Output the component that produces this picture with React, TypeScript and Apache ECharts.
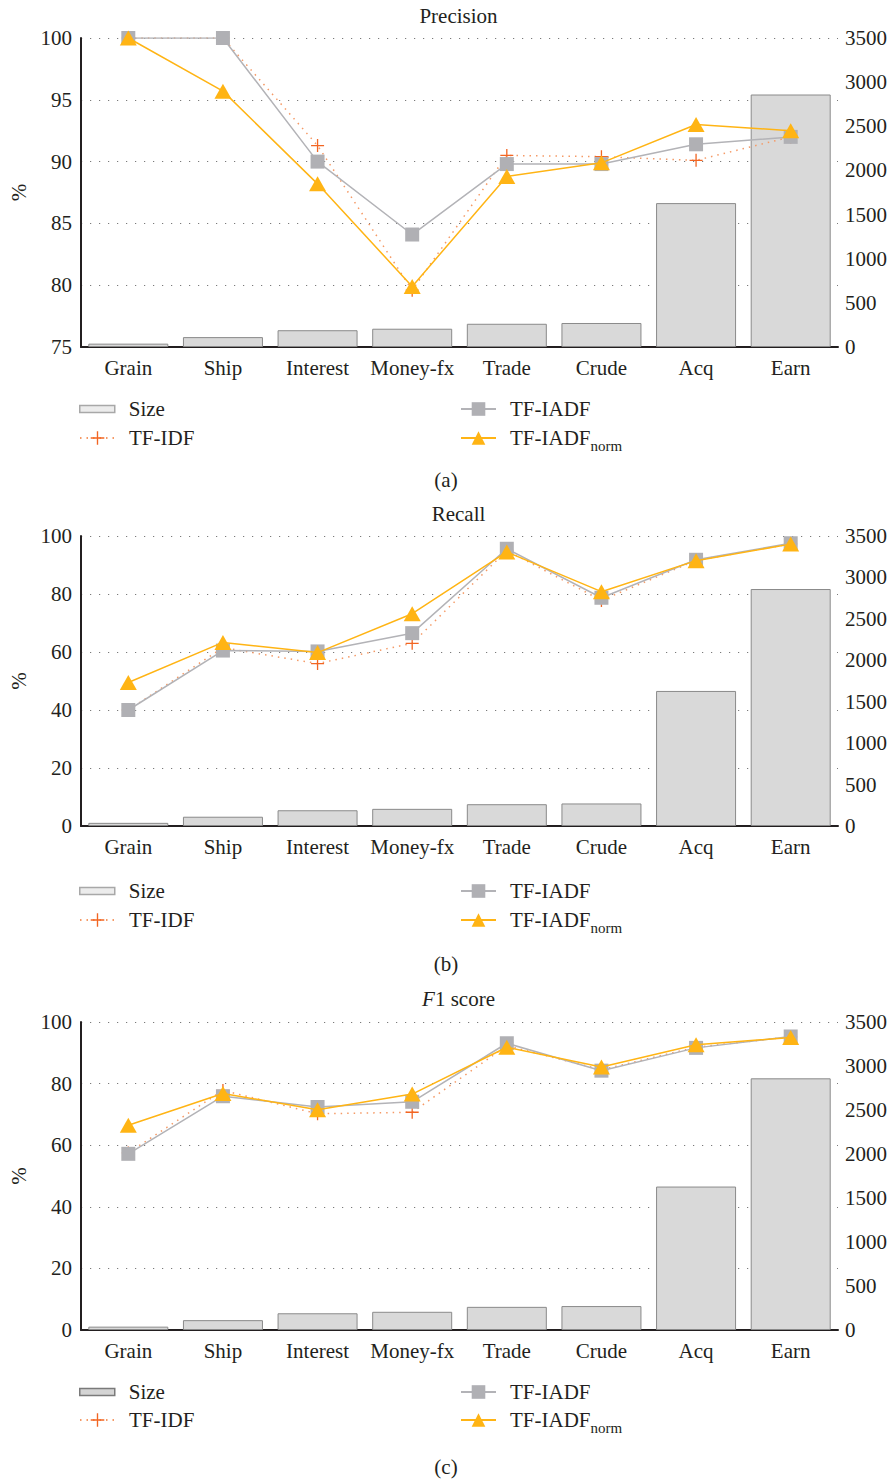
import React, { useEffect, useRef } from "react";
import * as echarts from "echarts";

// Categories and training-set sizes (documents per class)
const categories = ["Grain", "Ship", "Interest", "Money-fx", "Trade", "Crude", "Acq", "Earn"];
const sizeValues = [38, 112, 190, 207, 263, 272, 1630, 2860];

// Precision (%)
const precisionTfIdf = [100, 100, 91.3, 79.6, 90.5, 90.4, 90.1, 92.0];
const precisionTfIadf = [100, 100, 90.0, 84.1, 89.8, 89.8, 91.4, 92.0];
const precisionTfIadfNorm = [100, 95.7, 88.2, 79.9, 88.8, 89.9, 93.0, 92.5];

// Recall (%)
const recallTfIdf = [40, 61.5, 56, 63, 95, 77.8, 91.6, 97.3];
const recallTfIadf = [40, 60.5, 60.2, 66.5, 95.6, 78.7, 91.8, 97.5];
const recallTfIadfNorm = [49.5, 63.3, 59.8, 73.2, 94.5, 80.8, 91.5, 97.2];

// F1 score (%)
const f1TfIdf = [57.5, 77.8, 70.2, 70.7, 92.3, 84.5, 91.8, 95.2];
const f1TfIadf = [57.2, 75.9, 72.4, 74.1, 93.1, 84.2, 91.6, 95.3];
const f1TfIadfNorm = [66.5, 76.8, 71.5, 76.6, 91.8, 85.4, 92.6, 95.0];

// Axis ranges
const leftTicksA = { min: 75, max: 100, interval: 5 };
const leftTicksBC = { min: 0, max: 100, interval: 20 };
const rightTicks = { min: 0, max: 3500, interval: 500 };

const FONT = '"Liberation Serif", "Times New Roman", serif';
const FS = 21;
const INK = "#231f20";
const GRAY_LINE = "#b3b3b7";
const GRAY_MARK = "#b0b0b4";
const AMBER = "#ffb414";
const ORANGE = "#f26522";
const ORANGE_DOT = "#f59a66";
const PLUS = "path://M5.4,0H6.6V5.4H12V6.6H6.6V12H5.4V6.6H0V5.4H5.4Z";

type Panel = {
  title: string;
  caption: string;
  tfidf: number[];
  tfiadf: number[];
  norm: number[];
  ticks: { min: number; max: number; interval: number };
  gridTop: number;
  gridHeight: number;
  titleTop: number;
  rows: [number, number];
  captionTop: number;
  sizeSwatch: { color: string; borderColor: string };
};

const panels: Panel[] = [
  {
    title: "Precision",
    caption: "(a)",
    tfidf: precisionTfIdf,
    tfiadf: precisionTfIadf,
    norm: precisionTfIadfNorm,
    ticks: leftTicksA,
    gridTop: 38,
    gridHeight: 309,
    titleTop: 5,
    rows: [409, 438],
    captionTop: 469,
    sizeSwatch: { color: "#ececec", borderColor: "#a8a8a8" },
  },
  {
    title: "Recall",
    caption: "(b)",
    tfidf: recallTfIdf,
    tfiadf: recallTfIadf,
    norm: recallTfIadfNorm,
    ticks: leftTicksBC,
    gridTop: 536,
    gridHeight: 290,
    titleTop: 503,
    rows: [891, 920],
    captionTop: 953,
    sizeSwatch: { color: "#ececec", borderColor: "#a8a8a8" },
  },
  {
    title: "{i|F}1 score",
    caption: "(c)",
    tfidf: f1TfIdf,
    tfiadf: f1TfIadf,
    norm: f1TfIadfNorm,
    ticks: leftTicksBC,
    gridTop: 1022,
    gridHeight: 308,
    titleTop: 988,
    rows: [1392, 1420],
    captionTop: 1456,
    sizeSwatch: { color: "#d4d4d4", borderColor: "#7a7a7a" },
  },
];

const GRID_LEFT = 79;
const GRID_WIDTH = 759;

function buildOption() {
  const grid: any[] = [];
  const xAxis: any[] = [];
  const yAxis: any[] = [];
  const series: any[] = [];
  const title: any[] = [];
  const legend: any[] = [];

  const textBase = { fontFamily: FONT, fontSize: FS, color: INK };
  const legendText = { ...textBase, lineHeight: 21, padding: [0, 0, 0, 9] };

  panels.forEach((p, i) => {
    grid.push({ left: GRID_LEFT, top: p.gridTop, width: GRID_WIDTH, height: p.gridHeight });

    xAxis.push({
      type: "category",
      gridIndex: i,
      data: categories,
      axisLine: { show: true, lineStyle: { color: INK, width: 2 } },
      axisTick: { show: false },
      axisLabel: { ...textBase, margin: 10, interval: 0 },
      splitLine: { show: false },
    });

    yAxis.push({
      type: "value",
      gridIndex: i,
      position: "left",
      min: p.ticks.min,
      max: p.ticks.max,
      interval: p.ticks.interval,
      name: "%",
      nameLocation: "middle",
      nameGap: 52,
      nameRotate: 90,
      nameTextStyle: { ...textBase },
      axisLine: { show: true, lineStyle: { color: INK, width: 2 } },
      axisTick: { show: false },
      axisLabel: { ...textBase, margin: 9 },
      splitLine: { show: true, lineStyle: { color: "#7a7a7a", width: 1.2, type: [1.2, 7.8] } },
    });

    yAxis.push({
      type: "value",
      gridIndex: i,
      position: "right",
      min: rightTicks.min,
      max: rightTicks.max,
      interval: rightTicks.interval,
      axisLine: { show: false },
      axisTick: { show: false },
      axisLabel: { ...textBase, margin: 7, formatter: (v: number) => String(v) },
      splitLine: { show: false },
    });

    series.push({
      type: "bar",
      name: "Size",
      xAxisIndex: i,
      yAxisIndex: 2 * i + 1,
      data: sizeValues,
      barWidth: 80,
      itemStyle: { color: "#d9d9d9", borderColor: "#8a8a8a", borderWidth: 1 },
      z: 1,
    });
    series.push({
      type: "line",
      name: "TF-IDF",
      xAxisIndex: i,
      yAxisIndex: 2 * i,
      data: p.tfidf,
      symbol: PLUS,
      symbolSize: 13,
      itemStyle: { color: ORANGE },
      lineStyle: { color: ORANGE_DOT, width: 1.5, type: [1.5, 5] },
      z: 2,
    });
    series.push({
      type: "line",
      name: "TF-IADF",
      xAxisIndex: i,
      yAxisIndex: 2 * i,
      data: p.tfiadf,
      symbol: "rect",
      symbolSize: 14,
      itemStyle: { color: GRAY_MARK },
      lineStyle: { color: GRAY_LINE, width: 1.5 },
      z: 3,
    });
    series.push({
      type: "line",
      name: "TF-IADFnorm",
      xAxisIndex: i,
      yAxisIndex: 2 * i,
      data: p.norm,
      symbol: "triangle",
      symbolSize: [17, 15],
      itemStyle: { color: AMBER },
      lineStyle: { color: AMBER, width: 1.5 },
      z: 4,
    });

    title.push({
      text: p.title,
      left: GRID_LEFT + GRID_WIDTH / 2,
      textAlign: "center",
      top: p.titleTop,
      padding: 0,
      textStyle: {
        ...textBase,
        fontWeight: "normal",
        rich: { i: { ...textBase, fontStyle: "italic" } },
      },
    });
    title.push({
      text: p.caption,
      left: "center",
      top: p.captionTop,
      padding: 0,
      textStyle: { ...textBase, fontWeight: "normal" },
    });

    const [r1, r2] = p.rows;
    legend.push({
      data: [{ name: "Size", icon: "rect", itemStyle: { ...p.sizeSwatch, borderWidth: 1.5 } }],
      left: 79,
      top: r1 - 10.5,
      padding: 0,
      itemWidth: 35,
      itemHeight: 7,
      selectedMode: false,
      textStyle: legendText,
    });
    legend.push({
      data: ["TF-IDF"],
      left: 79,
      top: r2 - 10.5,
      padding: 0,
      itemWidth: 35,
      itemHeight: 17,
      selectedMode: false,
      textStyle: legendText,
    });
    legend.push({
      data: ["TF-IADF"],
      left: 460,
      top: r1 - 10.5,
      padding: 0,
      itemWidth: 35,
      itemHeight: 17,
      selectedMode: false,
      textStyle: legendText,
    });
    legend.push({
      data: ["TF-IADFnorm"],
      left: 460,
      top: r2 - 10.5,
      padding: 0,
      itemWidth: 35,
      itemHeight: 17,
      selectedMode: false,
      formatter: () => "{m|TF-IADF}{s|norm}",
      textStyle: {
        ...legendText,
        rich: {
          m: { ...textBase, lineHeight: 21, verticalAlign: "top" },
          s: { ...textBase, fontSize: 15, lineHeight: 15, verticalAlign: "top", padding: [11, 0, 0, 0] },
        },
      },
    });
  });

  return {
    animation: false,
    backgroundColor: "#ffffff",
    textStyle: { fontFamily: FONT },
    title,
    legend,
    grid,
    xAxis,
    yAxis,
    series,
  };
}

export default function App() {
  const ref = useRef<HTMLDivElement>(null);

  useEffect(() => {
    if (!ref.current) return;
    const chart = echarts.init(ref.current, undefined, { renderer: "svg" });
    chart.setOption(buildOption());
    return () => chart.dispose();
  }, []);

  return (
    <div
      ref={ref}
      style={{ position: "absolute", left: 0, top: 0, width: 892, height: 1480, background: "#fff" }}
    />
  );
}
